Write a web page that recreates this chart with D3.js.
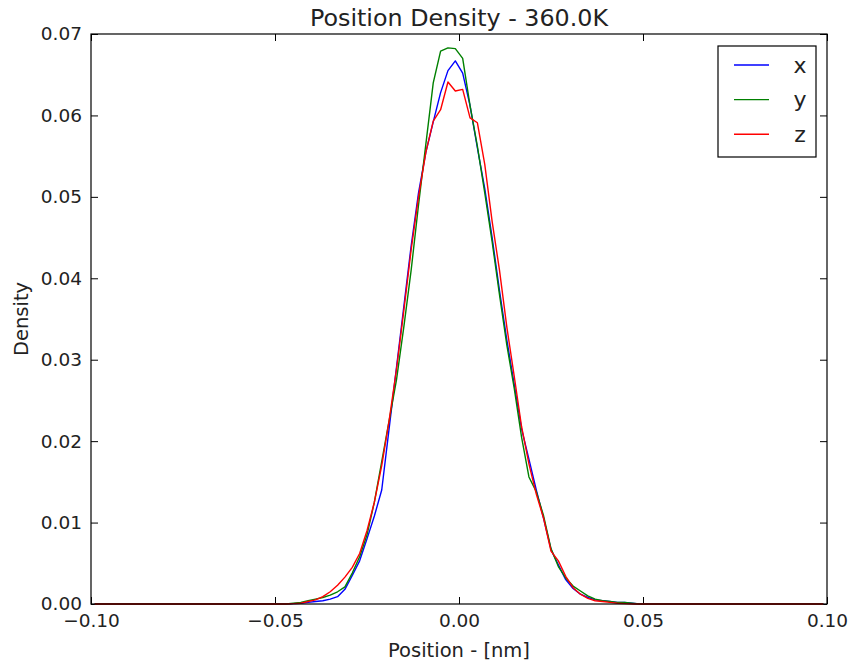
<!DOCTYPE html>
<html>
<head>
<meta charset="utf-8">
<script src="https://cdn.jsdelivr.net/npm/d3@7"></script>
<style>
  body { margin: 0; background: #fff; }
  svg { font-family: 'DejaVu Sans', sans-serif; }
</style>
</head>
<body>
<svg id="chart"></svg>
<script>
// bin centres of a 100-bin histogram from -0.1 to 0.1 nm
const binStart = -0.099;
const binStep = 0.002;

const densityX = [
  0, 0, 0, 0, 0, 0, 0, 0, 0, 0, 0, 0, 0, 0, 0, 0, 0, 0, 0, 0, 0, 0, 0, 0, 0, 0, 0,
  0.00005, 0.0001, 0.0002, 0.0003, 0.0004, 0.0006, 0.0009, 0.0018, 0.0035, 0.0053,
  0.0080, 0.0108, 0.0140, 0.0215, 0.0290, 0.0365, 0.0440, 0.0505, 0.0555, 0.0592,
  0.0628, 0.0655, 0.0667, 0.0652, 0.0612, 0.0560, 0.0510, 0.0450, 0.0385, 0.0324,
  0.0270, 0.0215, 0.0178, 0.0140, 0.0105, 0.0067, 0.0048, 0.0030, 0.0019, 0.0012,
  0.0008, 0.0005, 0.0004, 0.0003, 0.0002, 0.0002, 0.0001,
  0, 0, 0, 0, 0, 0, 0, 0, 0, 0, 0, 0, 0, 0, 0, 0, 0, 0, 0, 0, 0, 0, 0, 0, 0, 0,
];
const densityY = [
  0, 0, 0, 0, 0, 0, 0, 0, 0, 0, 0, 0, 0, 0, 0, 0, 0, 0, 0, 0, 0, 0, 0, 0, 0, 0, 0,
  0.0001, 0.0002, 0.0004, 0.0006, 0.0008, 0.0011, 0.0015, 0.0021, 0.0038, 0.0058,
  0.0085, 0.0125, 0.0175, 0.0225, 0.0275, 0.0340, 0.0410, 0.0490, 0.0565, 0.0640,
  0.0679, 0.0683, 0.0682, 0.0670, 0.0612, 0.0562, 0.0505, 0.0445, 0.0380, 0.0318,
  0.0265, 0.0205, 0.0156, 0.0138, 0.0108, 0.0068, 0.0046, 0.0032, 0.0022, 0.0016,
  0.0010, 0.0006, 0.0004, 0.0003, 0.0002, 0.0002, 0.0001,
  0, 0, 0, 0, 0, 0, 0, 0, 0, 0, 0, 0, 0, 0, 0, 0, 0, 0, 0, 0, 0, 0, 0, 0, 0, 0,
];
const densityZ = [
  0, 0, 0, 0, 0, 0, 0, 0, 0, 0, 0, 0, 0, 0, 0, 0, 0, 0, 0, 0, 0, 0, 0, 0, 0, 0, 0,
  0.00005, 0.0001, 0.0003, 0.0005, 0.0009, 0.0015, 0.0023, 0.0033, 0.0045, 0.0062,
  0.0090, 0.0125, 0.0170, 0.0225, 0.0288, 0.0360, 0.0435, 0.0500, 0.0555, 0.0593,
  0.0607, 0.0641, 0.0630, 0.0632, 0.0597, 0.0591, 0.0540, 0.0470, 0.0410, 0.0340,
  0.0280, 0.0218, 0.0172, 0.0135, 0.0105, 0.0065, 0.0053, 0.0034, 0.0020, 0.0012,
  0.0007, 0.0004, 0.0003, 0.0002, 0.0001, 0.00005, 0,
  0, 0, 0, 0, 0, 0, 0, 0, 0, 0, 0, 0, 0, 0, 0, 0, 0, 0, 0, 0, 0, 0, 0, 0, 0, 0,
];

const seriesNames = ['x', 'y', 'z'];
const seriesColors = ['#0000ff', '#008000', '#ff0000'];
const xTicks = [-0.1, -0.05, 0, 0.05, 0.1];
const yTicks = [0, 0.01, 0.02, 0.03, 0.04, 0.05, 0.06, 0.07];

const width = 854;
const height = 665;
const margin = { top: 34, right: 27, bottom: 61, left: 91 };
const innerW = width - margin.left - margin.right;
const innerH = height - margin.top - margin.bottom;

const svg = d3.select('#chart')
  .attr('width', width)
  .attr('height', height);

const g = svg.append('g')
  .attr('transform', `translate(${margin.left},${margin.top})`);

const x = d3.scaleLinear().domain([-0.1, 0.1]).range([0, innerW]);
const y = d3.scaleLinear().domain([0, 0.07]).range([innerH, 0]);

const fmt = (d) => d3.format('.2f')(d).replace('-', '\u2212');

// axes with inward ticks on all four sides
const axisB = g.append('g')
  .attr('transform', `translate(0,${innerH})`)
  .call(d3.axisBottom(x).tickValues(xTicks).tickSize(-7).tickPadding(10).tickFormat(fmt));
const axisT = g.append('g')
  .call(d3.axisTop(x).tickValues(xTicks).tickSize(-7).tickFormat(''));
const axisL = g.append('g')
  .call(d3.axisLeft(y).tickValues(yTicks).tickSize(-7).tickPadding(9).tickFormat(fmt));
const axisR = g.append('g')
  .attr('transform', `translate(${innerW},0)`)
  .call(d3.axisRight(y).tickValues(yTicks).tickSize(-7).tickFormat(''));

[axisB, axisT, axisL, axisR].forEach((a) => {
  a.select('.domain').remove();
  a.selectAll('line').attr('stroke', '#000').attr('stroke-width', 1);
  a.selectAll('text')
    .attr('fill', '#222')
    .style('font-size', '18.5px')
    .style('font-family', "'DejaVu Sans', sans-serif");
});

g.append('clipPath').attr('id', 'plot-clip')
  .append('rect').attr('width', innerW).attr('height', innerH + 1);

const line = d3.line()
  .x((d, i) => x(binStart + i * binStep))
  .y((d) => y(d));

const lines = g.append('g').attr('clip-path', 'url(#plot-clip)');
[densityX, densityY, densityZ].forEach((s, k) => {
  lines.append('path')
    .datum(s)
    .attr('fill', 'none')
    .attr('stroke', seriesColors[k])
    .attr('stroke-width', 1.4)
    .attr('stroke-linejoin', 'round')
    .attr('d', line);
});

g.append('rect')
  .attr('width', innerW)
  .attr('height', innerH)
  .attr('fill', 'none')
  .attr('stroke', '#000')
  .attr('stroke-width', 1.2);

// title and axis labels
svg.append('text')
  .attr('x', margin.left + innerW / 2)
  .attr('y', 26)
  .attr('text-anchor', 'middle')
  .style('font-size', '23.8px')
  .attr('fill', '#222')
  .text('Position Density - 360.0K');

svg.append('text')
  .attr('x', margin.left + innerW / 2)
  .attr('y', 657)
  .attr('text-anchor', 'middle')
  .style('font-size', '19.5px')
  .attr('fill', '#222')
  .text('Position - [nm]');

svg.append('text')
  .attr('transform', `translate(28,${margin.top + innerH / 2}) rotate(-90)`)
  .attr('text-anchor', 'middle')
  .style('font-size', '19.5px')
  .attr('fill', '#222')
  .text('Density');

// legend
const legend = svg.append('g').attr('transform', 'translate(718,46)');
legend.append('rect')
  .attr('width', 98)
  .attr('height', 111)
  .attr('fill', '#fff')
  .attr('stroke', '#000')
  .attr('stroke-width', 1.2);

seriesNames.forEach((name, i) => {
  const ly = 19 + i * 34.6;
  legend.append('line')
    .attr('x1', 16).attr('x2', 51)
    .attr('y1', ly).attr('y2', ly)
    .attr('stroke', seriesColors[i])
    .attr('stroke-width', 1.4);
  legend.append('text')
    .attr('x', 82)
    .attr('y', ly)
    .attr('dy', '0.35em')
    .attr('text-anchor', 'middle')
    .style('font-size', '22px')
    .attr('fill', '#222')
    .text(name);
});
</script>
</body>
</html>
